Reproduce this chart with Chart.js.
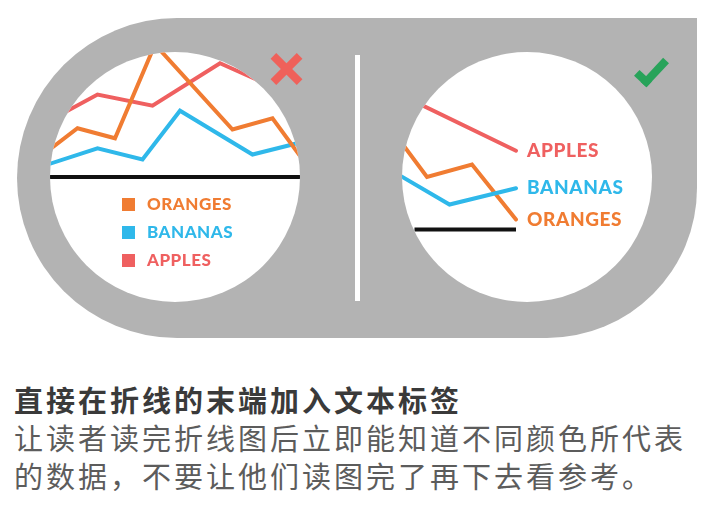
<!DOCTYPE html>
<html>
<head>
<meta charset="utf-8">
<script src="https://cdn.jsdelivr.net/npm/chart.js@4.4.1/dist/chart.umd.min.js"></script>
<style>
  body { margin: 0; width: 718px; height: 508px; background: #fff; position: relative; overflow: hidden; }
  .shape { position: absolute; left: 17px; top: 18px; width: 680px; height: 320px; background: #b3b3b3;
           border-radius: 160px 0 150px 160px; }
  .circle { position: absolute; top: 52px; width: 250px; height: 250px; border-radius: 50%; background: #fff; }
  .divider { position: absolute; left: 355px; top: 55px; width: 5px; height: 246px; background: #fff; }
  canvas { position: absolute; top: 52px; }
  .cross { position: absolute; left: 268px; top: 65px; width: 37px; height: 8px; background: #ef615a; }
  .cross.a { transform: rotate(45deg); }
  .cross.b { transform: rotate(-45deg); }
  .check { position: absolute; left: 643px; top: 53px; width: 9px; height: 25px;
           border-right: 8px solid #28a35a; border-bottom: 8px solid #28a35a; transform: rotate(43deg); }
  #legend { position: absolute; left: 122px; top: 194px; font-family: Lato, sans-serif; font-weight: 900;
            font-size: 17px; letter-spacing: 0.5px; }
  #legend div { height: 28px; line-height: 20px; white-space: nowrap; }
  #legend span.box { display: inline-block; width: 13px; height: 13px; margin-right: 12px; vertical-align: -1px; }
  .text { position: absolute; left: 14px; top: 380px; font-family: "Noto Sans CJK SC", sans-serif; font-size: 29px;
          letter-spacing: 3px; line-height: 38px; white-space: nowrap; }
  .text .title { font-weight: 700; color: #3a3a3a; }
  .text .body { color: #5c5c5c; }
</style>
</head>
<body>
<div class="shape"></div>
<div class="circle" style="left:50px"></div>
<div class="circle" style="left:402px"></div>
<div class="divider"></div>
<div class="cross a"></div>
<div class="cross b"></div>
<div class="check"></div>
<canvas id="leftChart" width="250" height="250" style="left:50px"></canvas>
<canvas id="rightChart" width="250" height="250" style="left:402px"></canvas>
<div id="legend"></div>
<div class="text">
  <div class="title">直接在折线的末端加入文本标签</div>
  <div class="body">让读者读完折线图后立即能知道不同颜色所代表<br>的数据，不要让他们读图完了再下去看参考。</div>
</div>
<script>
// series names + colours
var seriesNames = ['ORANGES', 'BANANAS', 'APPLES'];
var seriesColors = ['#f07c32', '#2fb8ea', '#ef6060'];

// left (legend) chart values
var leftOrangesX = [-0.4, 1.1, 2.6, 4.2, 7.3, 8.9, 10.4];
var leftOrangesY = [16, 39, 31, 106, 38, 47, 6];
var leftBananasX = [-0.4, 1.9, 3.7, 5.2, 8.1, 9.7, 10.4];
var leftBananasY = [8, 23, 14, 53, 18, 26, 30];
var leftApplesX = [-0.4, 1.9, 4.1, 6.8, 9.6];
var leftApplesY = [41, 66, 57, 91, 66];
var leftBaseX = [0, 10];

// right (direct label) chart values
var rightOrangesX = [-0.3, 1.0, 2.8, 4.56];
var rightOrangesY = [77, 42, 52, 8];
var rightBananasX = [-0.5, 1.9, 4.56];
var rightBananasY = [48, 20, 33];
var rightApplesX = [-0.5, 4.56];
var rightApplesY = [112, 63];
var rightBaseX = [0.5, 4.56];

function pts(xs, ys) {
    return xs.map(function(x, i) { return { x: x, y: ys[i] }; });
}

function serie(i, xs, ys) {
    return {
        label: seriesNames[i],
        data: pts(xs, ys),
        borderColor: seriesColors[i],
        backgroundColor: seriesColors[i],
        borderWidth: 4,
        borderCapStyle: 'round',
        borderJoinStyle: 'miter',
        clip: false,
        endLabel: true
    };
}

function baseline(xs) {
    return {
        label: 'base',
        data: pts(xs, xs.map(function() { return 0; })),
        borderColor: '#111',
        borderWidth: 4,
        borderCapStyle: 'butt',
        clip: false,
        endLabel: false
    };
}

// clips the lines to the white circle, and writes labels at line ends
var circlePlugin = {
    id: 'circle',
    beforeDatasetsDraw: function(chart) {
        var ctx = chart.ctx;
        ctx.save();
        ctx.beginPath();
        ctx.arc(chart.width / 2, chart.height / 2, Math.min(chart.width, chart.height) / 2, 0, Math.PI * 2);
        ctx.clip();
    },
    afterDatasetsDraw: function(chart, args, opts) {
        var ctx = chart.ctx;
        ctx.restore();
        if (!opts.endLabels) return;
        ctx.save();
        ctx.font = '900 19px Lato, sans-serif';
        ctx.letterSpacing = '0.6px';
        ctx.textBaseline = 'middle';
        chart.data.datasets.forEach(function(ds, i) {
            if (!ds.endLabel) return;
            var meta = chart.getDatasetMeta(i);
            var last = meta.data[meta.data.length - 1];
            ctx.fillStyle = ds.borderColor;
            ctx.fillText(ds.label, last.x + 11, last.y);
        });
        ctx.restore();
    }
};

function makeChart(id, datasets, yMin, yMax, endLabels) {
    return new Chart(document.getElementById(id).getContext('2d'), {
        type: 'line',
        data: { datasets: datasets },
        plugins: [circlePlugin],
        options: {
            responsive: false,
            animation: false,
            events: [],
            layout: { padding: 0 },
            elements: { point: { radius: 0 }, line: { tension: 0 } },
            scales: {
                x: { type: 'linear', display: false, min: 0, max: 10 },
                y: { display: false, min: yMin, max: yMax }
            },
            plugins: {
                legend: { display: false },
                tooltip: { enabled: false },
                circle: { endLabels: endLabels }
            }
        }
    });
}

var leftChart = makeChart('leftChart', [
    baseline(leftBaseX),
    serie(0, leftOrangesX, leftOrangesY),
    serie(1, leftBananasX, leftBananasY),
    serie(2, leftApplesX, leftApplesY)
], -100, 100, false);

var rightChart = makeChart('rightChart', [
    baseline(rightBaseX),
    serie(2, rightApplesX, rightApplesY),
    serie(1, rightBananasX, rightBananasY),
    serie(0, rightOrangesX, rightOrangesY)
], -58, 142, true);

// html legend for the left chart
var legend = document.getElementById('legend');
leftChart.data.datasets.forEach(function(ds) {
    if (!ds.endLabel) return;
    var row = document.createElement('div');
    row.style.color = ds.borderColor;
    row.innerHTML = '<span class="box" style="background:' + ds.borderColor + '"></span>' + ds.label;
    legend.appendChild(row);
});
</script>
</body>
</html>
